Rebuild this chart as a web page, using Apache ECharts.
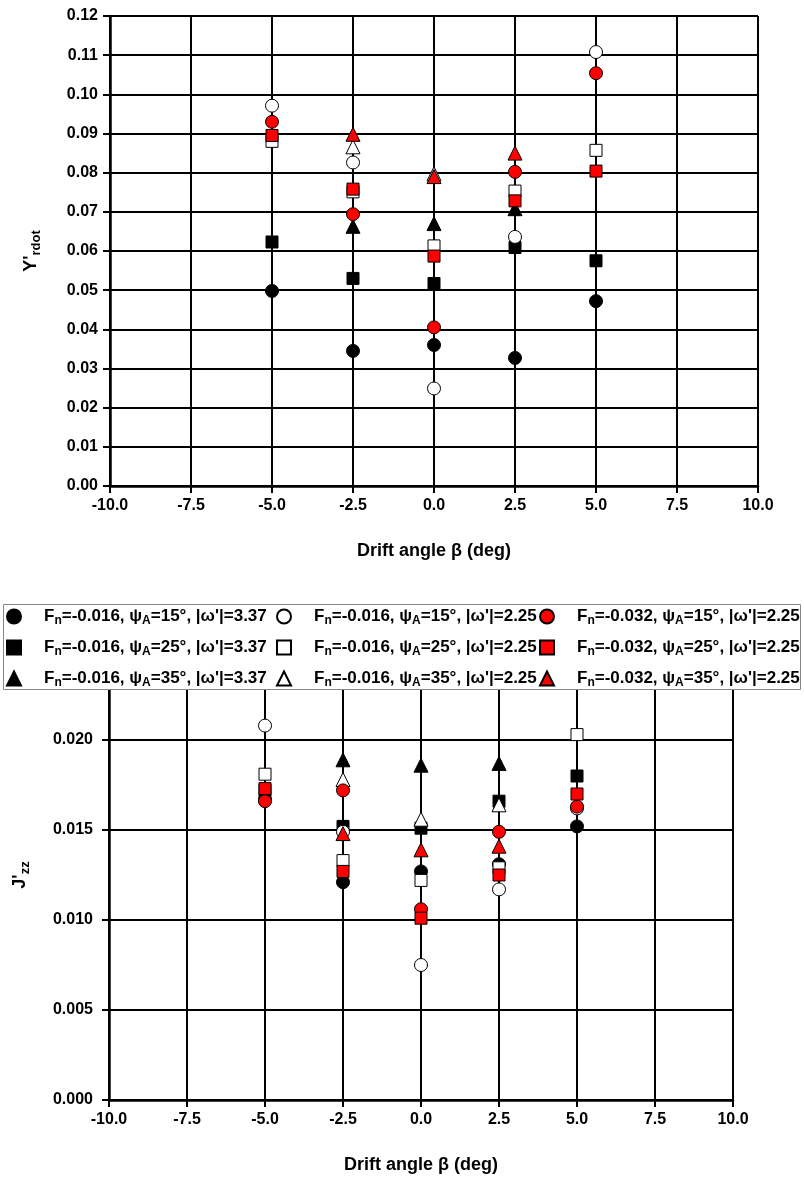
<!DOCTYPE html>
<html>
<head>
<meta charset="utf-8">
<title>Y'rdot and J'zz vs drift angle</title>
<script src="https://cdn.jsdelivr.net/npm/echarts@6/dist/echarts.min.js"></script>
<style>
  html, body { margin: 0; padding: 0; background: #fff; }
  #chart { width: 804px; height: 1177px; }
</style>
</head>
<body>
<div id="chart"></div>
<script>
// Drift angle positions (deg)
const beta = [-5, -2.5, 0, 2.5, 5];
const xTicks = { min: -10, max: 10, step: 2.5 };

// Y'rdot values, one array per test condition
const yr_c_016_15_337 = [0.0498, 0.0345, 0.0360, 0.0327, 0.0472];
const yr_s_016_25_337 = [0.0623, 0.0530, 0.0517, 0.0609, 0.0575];
const yr_t_016_35_337 = [null, 0.0663, 0.0670, 0.0708, null];
const yr_c_016_15_225 = [0.0971, 0.0826, 0.0249, 0.0636, 0.1108];
const yr_s_016_25_225 = [0.0880, 0.0751, 0.0613, 0.0753, 0.0857];
const yr_t_016_35_225 = [null, 0.0866, 0.0797, null, null];
const yr_c_032_15_225 = [0.0930, 0.0694, 0.0405, 0.0802, 0.1054];
const yr_s_032_25_225 = [0.0895, 0.0758, 0.0587, 0.0728, 0.0804];
const yr_t_032_35_225 = [null, 0.0898, 0.0790, 0.0850, null];

// J'zz values, one array per test condition
const jz_c_016_15_337 = [0.0167, 0.0121, 0.0127, 0.0131, 0.0152];
const jz_s_016_25_337 = [0.0172, 0.0152, 0.0151, 0.0166, 0.0180];
const jz_t_016_35_337 = [null, 0.0189, 0.0186, 0.0187, null];
const jz_c_016_15_225 = [0.0208, 0.0149, 0.0075, 0.0117, 0.0162];
const jz_s_016_25_225 = [0.0181, 0.0133, 0.0122, 0.0129, 0.0203];
const jz_t_016_35_225 = [null, 0.0178, 0.0156, 0.0164, null];
const jz_c_032_15_225 = [0.0166, 0.0172, 0.0106, 0.0149, 0.0163];
const jz_s_032_25_225 = [0.0173, 0.0127, 0.0101, 0.0125, 0.0170];
const jz_t_032_35_225 = [null, 0.0148, 0.0139, 0.0141, null];

// Condition labels: Froude number, rudder angle, yaw rate amplitude
const fnLabels = ['-0.016', '-0.016', '-0.016', '-0.016', '-0.016', '-0.016', '-0.032', '-0.032', '-0.032'];
const psiLabels = ['15', '25', '35', '15', '25', '35', '15', '25', '35'];
const omegaLabels = ['3.37', '3.37', '3.37', '2.25', '2.25', '2.25', '2.25', '2.25', '2.25'];

const FONT = '"Liberation Sans", Arial, sans-serif';

// Marker appearance per condition (shape + fill)
const shapes = ['circle', 'rect', 'triangle', 'circle', 'rect', 'triangle', 'circle', 'rect', 'triangle'];
const sizes = { circle: 13, rect: 12, triangle: 14 };
const fills = ['#000000', '#000000', '#000000', '#ffffff', '#ffffff', '#ffffff', '#ff0000', '#ff0000', '#ff0000'];

const topSets = [yr_c_016_15_337, yr_s_016_25_337, yr_t_016_35_337,
                 yr_c_016_15_225, yr_s_016_25_225, yr_t_016_35_225,
                 yr_c_032_15_225, yr_s_032_25_225, yr_t_032_35_225];
const botSets = [jz_c_016_15_337, jz_s_016_25_337, jz_t_016_35_337,
                 jz_c_016_15_225, jz_s_016_25_225, jz_t_016_35_225,
                 jz_c_032_15_225, jz_s_032_25_225, jz_t_032_35_225];

const names = fnLabels.map((f, i) => 'Fn=' + f + ', ψA=' + psiLabels[i] + '°, |ω\'|=' + omegaLabels[i]);
const richNames = {};
names.forEach((n, i) => {
  richNames[n] = '{g|}{m|F}{s|n}{m|=' + fnLabels[i] + ', ψ}{s|A}{m|=' + psiLabels[i] + '°, |ω\'|=' + omegaLabels[i] + '}';
});

function pairs(vals) {
  return beta.map((b, i) => vals[i] == null ? null : [b, vals[i]]).filter(p => p);
}

const series = [];
[topSets, botSets].forEach((sets, gi) => {
  sets.forEach((vals, i) => {
    series.push({
      type: 'scatter',
      name: names[i],
      xAxisIndex: gi,
      yAxisIndex: gi,
      symbol: shapes[i],
      symbolSize: sizes[shapes[i]],
      itemStyle: { color: fills[i], borderColor: '#000', borderWidth: 1, opacity: 1 },
      emphasis: { disabled: true },
      data: pairs(vals),
      z: 3 + i
    });
  });
});

const labelStyle = { fontFamily: FONT, fontWeight: 'bold', fontSize: 16, color: '#000' };
const gridLine = { show: true, lineStyle: { color: '#000', width: 2 } };
const axisLine = { show: true, onZero: false, lineStyle: { color: '#000', width: 2.5 } };
const axisTick = { show: true, length: 7, lineStyle: { color: '#000', width: 2 } };
const titleStyle = { fontFamily: FONT, fontWeight: 'bold', fontSize: 18, color: '#000' };

function xAxisFor(gridIndex) {
  return {
    type: 'value', gridIndex, min: xTicks.min, max: xTicks.max, interval: xTicks.step,
    axisLine, axisTick, splitLine: gridLine,
    axisLabel: Object.assign({ margin: 12, formatter: v => v.toFixed(1) }, labelStyle),
    name: 'Drift angle β (deg)', nameLocation: 'middle', nameGap: 56,
    nameTextStyle: titleStyle
  };
}

function axisNameRich() {
  return {
    rich: {
      m: { fontFamily: FONT, fontWeight: 'bold', fontSize: 18, color: '#000', lineHeight: 22 },
      s: { fontFamily: FONT, fontWeight: 'bold', fontSize: 13, color: '#000', lineHeight: 22, padding: [10, 0, 0, 0] }
    }
  };
}

const rich = {
  g: { width: 18 },
  m: { fontFamily: FONT, fontWeight: 'bold', fontSize: 17, color: '#000', lineHeight: 20 },
  s: { fontFamily: FONT, fontWeight: 'bold', fontSize: 12, color: '#000', lineHeight: 20, padding: [9, 0, 0, 0] }
};

const legendCols = [[0, 1, 2], [3, 4, 5], [6, 7, 8]];
const legendLeft = [6, 276, 539];

const option = {
  animation: false,
  backgroundColor: '#fff',
  grid: [
    { left: 110, right: 46, top: 16, bottom: 691, containLabel: false },
    { left: 109, right: 71, top: 650, bottom: 77, containLabel: false }
  ],
  xAxis: [xAxisFor(0), xAxisFor(1)],
  yAxis: [
    {
      type: 'value', gridIndex: 0, min: 0, max: 0.12, interval: 0.01,
      axisLine, axisTick, splitLine: gridLine,
      axisLabel: Object.assign({ margin: 12, formatter: v => v.toFixed(2) }, labelStyle),
      name: "{m|Y'}{s|rdot}", nameLocation: 'middle', nameRotate: 90, nameGap: 68,
      nameTextStyle: axisNameRich()
    },
    {
      type: 'value', gridIndex: 1, min: 0, max: 0.025, interval: 0.005,
      axisLine, axisTick, splitLine: gridLine,
      axisLabel: Object.assign({ margin: 16, formatter: v => v.toFixed(3) }, labelStyle),
      name: "{m|J'}{s|zz}", nameLocation: 'middle', nameRotate: 90, nameGap: 78,
      nameTextStyle: axisNameRich()
    }
  ],
  // Legend box sits over the upper part of the lower plot
  graphic: [{
    type: 'rect', z: 50, silent: true,
    shape: { x: 3.5, y: 604.5, width: 797, height: 85 },
    style: { fill: '#fff', stroke: '#888', lineWidth: 1 }
  }],
  legend: legendCols.map((col, k) => ({
    show: true, orient: 'vertical', left: legendLeft[k], top: 606,
    itemWidth: 14, itemHeight: 14, itemGap: 10, padding: 0,
    selectedMode: false, z: 60,
    data: col.map(i => names[i]),
    formatter: n => richNames[n],
    textStyle: { rich }
  })),
  series
};

const chart = echarts.init(document.getElementById('chart'), null, { renderer: 'canvas' });
chart.setOption(option);
</script>
</body>
</html>
